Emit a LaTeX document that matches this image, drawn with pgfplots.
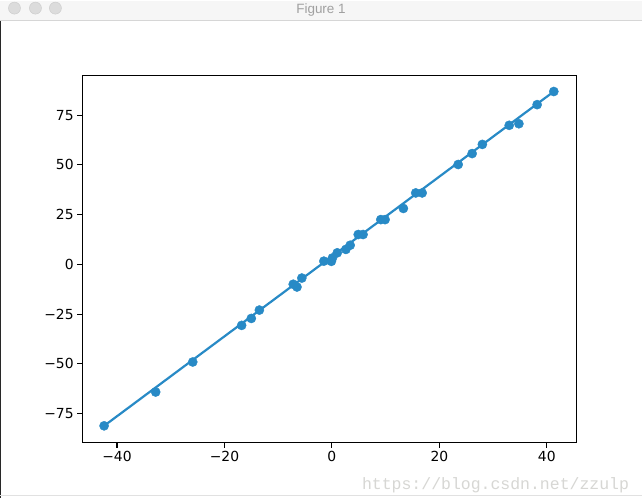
\documentclass[border=0pt]{standalone}
\usepackage{pgfplots}
\pgfplotsset{compat=1.18}
\usepackage{fontspec}
\setmainfont{DejaVu Sans}
\newfontfamily\titlefont{Liberation Sans}
\newfontfamily\wmfont{Liberation Mono}
\definecolor{mpblue}{RGB}{40,138,198}
\definecolor{barbg}{RGB}{246,246,246}
\definecolor{barline}{RGB}{214,214,214}
\definecolor{btnfill}{RGB}{220,220,220}
\definecolor{btndraw}{RGB}{205,205,205}
\definecolor{titlegray}{RGB}{160,160,160}
\definecolor{edgedark}{RGB}{40,40,40}
\definecolor{wmgray}{RGB}{215,215,212}
\definecolor{botline}{RGB}{225,225,225}
\begin{document}
\begin{tikzpicture}[x=1pt,y=1pt]
\path[fill=white] (0,0) rectangle (642,498);
% window title bar
\fill[barbg] (0,478) rectangle (642,498);
\draw[barline, line width=1pt] (0,478) -- (642,478);
\foreach \cx in {14,35,55}{
  \draw[fill=btnfill, draw=btndraw, line width=0.5pt] (\cx,490.5) circle (6);
}
\node[font=\titlefont\fontsize{13.5}{15}\selectfont, text=titlegray] at (321,489) {Figure 1};
\draw[edgedark, line width=1pt] (0.5,0) -- (0.5,478);
\begin{axis}[
  at={(81.7pt,55pt)}, anchor=south west,
  scale only axis, width=495.6pt, height=367.7pt,
  xmin=-46.5, xmax=45.6, ymin=-89.8, ymax=94.8,
  xtick={-40,-20,0,20,40},
  xticklabels={−40,−20,0,20,40},
  ytick={-75,-50,-25,0,25,50,75},
  yticklabels={−75,−50,−25,0,25,50,75},
  tick pos=left, tick align=outside,
  major tick length=4.9pt,
  every tick/.style={black, line width=1.1pt},
  axis line style={black, line width=1.1pt},
  ticklabel style={font=\fontsize{13.9}{16}\selectfont},
  clip=false,
]
\addplot[mpblue, line width=2.2pt] coordinates {(-42.4,-81.2) (41.3,86.9)};
\addplot[only marks, color=mpblue, mark=*, mark size=4.6pt, mark options={solid, draw=mpblue, fill=mpblue}] coordinates {
(-42.4,-81.2) (-32.8,-64.2) (-25.9,-49.1) (-16.8,-30.7) (-15.0,-27.2) (-13.5,-23.0)
(-7.2,-10.0) (-6.5,-11.4) (-5.6,-6.9) (-1.5,1.6) (-0.1,1.5) (0.1,3.2) (1.0,5.8)
(2.6,7.5) (3.4,9.6) (4.9,15.0) (5.8,15.0) (9.1,22.5) (9.9,22.5) (13.3,28.1)
(15.6,35.9) (16.8,35.9) (23.5,50.2) (26.1,55.7) (28.0,60.3) (33.0,69.9)
(34.8,70.7) (38.2,80.3) (41.3,86.9)
};
\end{axis}
\node[anchor=east, font=\wmfont\fontsize{16.5}{18}\selectfont, text=wmgray] at (633,13) {https://blog.csdn.net/zzulp};
\draw[botline, line width=1pt] (0,2) -- (642,2);
\end{tikzpicture}
\end{document}
